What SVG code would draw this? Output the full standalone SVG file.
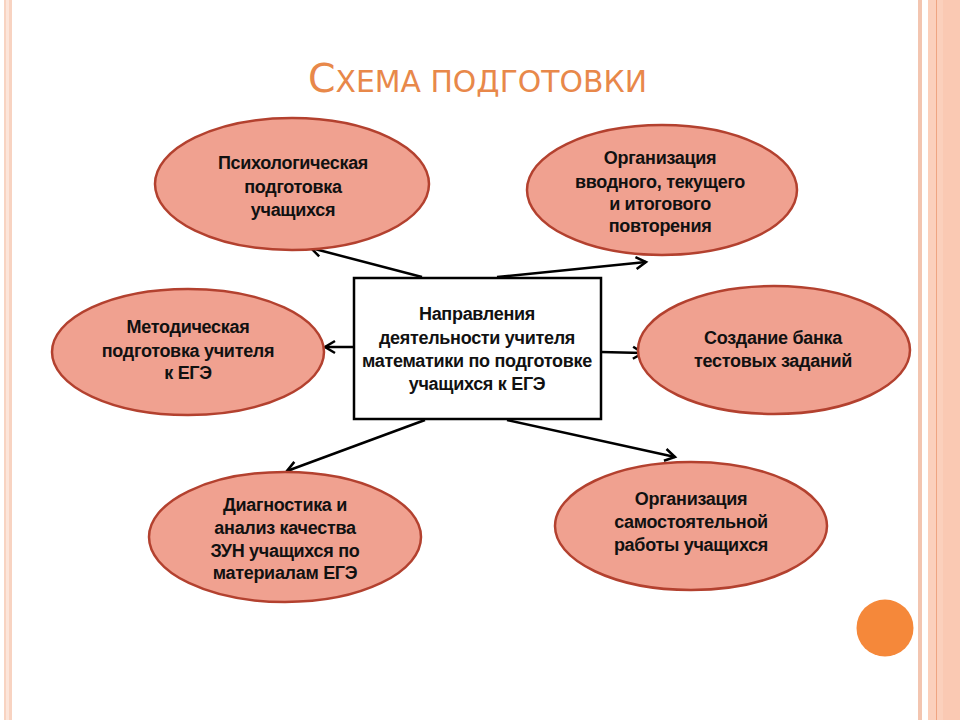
<svg xmlns="http://www.w3.org/2000/svg" width="960" height="720" viewBox="0 0 960 720">
<defs>
<style>
.node ellipse{fill:#F0A190;stroke:#B3412F;stroke-width:2.5}
.lbl{font-family:"Liberation Sans",Arial,sans-serif;font-weight:bold;font-size:18px;fill:#111;text-anchor:middle;letter-spacing:-0.3px}
.conn line{stroke:#000;stroke-width:2.5;fill:none}
.title{font-family:"DejaVu Sans","Liberation Sans",sans-serif;fill:#E8884A}
</style>
<marker id="arr" markerUnits="userSpaceOnUse" markerWidth="16" markerHeight="16" refX="12" refY="7" orient="auto" viewBox="0 0 16 14">
<path d="M2,1 L12,7 L2,13" fill="none" stroke="#000" stroke-width="2.5"/>
</marker>
</defs>
<rect x="0" y="0" width="960" height="720" fill="#fff"/>
<rect x="4" y="0" width="8" height="720" fill="#F8D3C1"/>
<rect x="6" y="0" width="3" height="720" fill="#FCE5DA"/>
<rect x="918" y="0" width="4" height="720" fill="#F3C5B0"/>
<rect x="928" y="0" width="32" height="720" fill="#FBD0BC"/>
<rect x="936" y="0" width="1" height="720" fill="#EFA582"/>
<rect x="943" y="0" width="17" height="720" fill="#FAC9B3"/>
<circle cx="885" cy="628" r="28.5" fill="#F5883A"/>
<text class="title" x="308" y="92" textLength="339" lengthAdjust="spacingAndGlyphs"><tspan font-size="39">С</tspan><tspan font-size="29.5">ХЕМА ПОДГОТОВКИ</tspan></text>
<g class="conn">
<line x1="422" y1="277" x2="311" y2="248" marker-end="url(#arr)"/>
<line x1="497" y1="277" x2="646" y2="262" marker-end="url(#arr)"/>
<line x1="353" y1="347" x2="325" y2="347" marker-end="url(#arr)"/>
<line x1="601" y1="352" x2="643" y2="353" marker-end="url(#arr)"/>
<line x1="425" y1="420" x2="287" y2="471" marker-end="url(#arr)"/>
<line x1="507" y1="420" x2="675" y2="457" marker-end="url(#arr)"/>
</g>
<g id="center">
<rect x="354" y="278" width="247" height="141" fill="#fff" stroke="#000" stroke-width="2.5"/>
<text class="lbl" x="477" y="320">Направления</text>
<text class="lbl" x="477" y="344">деятельности учителя</text>
<text class="lbl" x="477" y="367">математики по подготовке</text>
<text class="lbl" x="477" y="390">учащихся к ЕГЭ</text>
</g>
<g id="psych" class="node">
<ellipse cx="292" cy="184" rx="137" ry="66"/>
<text class="lbl" x="293" y="169">Психологическая</text>
<text class="lbl" x="293" y="193">подготовка</text>
<text class="lbl" x="293" y="216">учащихся</text>
</g>
<g id="repeat" class="node">
<ellipse cx="662" cy="190" rx="135" ry="65"/>
<text class="lbl" x="660" y="164">Организация</text>
<text class="lbl" x="660" y="188">вводного, текущего</text>
<text class="lbl" x="660" y="210">и итогового</text>
<text class="lbl" x="660" y="232">повторения</text>
</g>
<g id="method" class="node">
<ellipse cx="188" cy="352" rx="136" ry="63"/>
<text class="lbl" x="188" y="333">Методическая</text>
<text class="lbl" x="188" y="357">подготовка учителя</text>
<text class="lbl" x="188" y="379">к ЕГЭ</text>
</g>
<g id="bank" class="node">
<ellipse cx="774" cy="350" rx="136" ry="64"/>
<text class="lbl" x="773" y="344">Создание банка</text>
<text class="lbl" x="773" y="367">тестовых заданий</text>
</g>
<g id="diag" class="node">
<ellipse cx="285" cy="537" rx="136" ry="65"/>
<text class="lbl" x="285" y="511">Диагностика и</text>
<text class="lbl" x="285" y="534">анализ качества</text>
<text class="lbl" x="285" y="557">ЗУН учащихся по</text>
<text class="lbl" x="285" y="579">материалам ЕГЭ</text>
</g>
<g id="self" class="node">
<ellipse cx="691" cy="526" rx="136" ry="64"/>
<text class="lbl" x="691" y="505">Организация</text>
<text class="lbl" x="691" y="528">самостоятельной</text>
<text class="lbl" x="691" y="551">работы учащихся</text>
</g>
</svg>
